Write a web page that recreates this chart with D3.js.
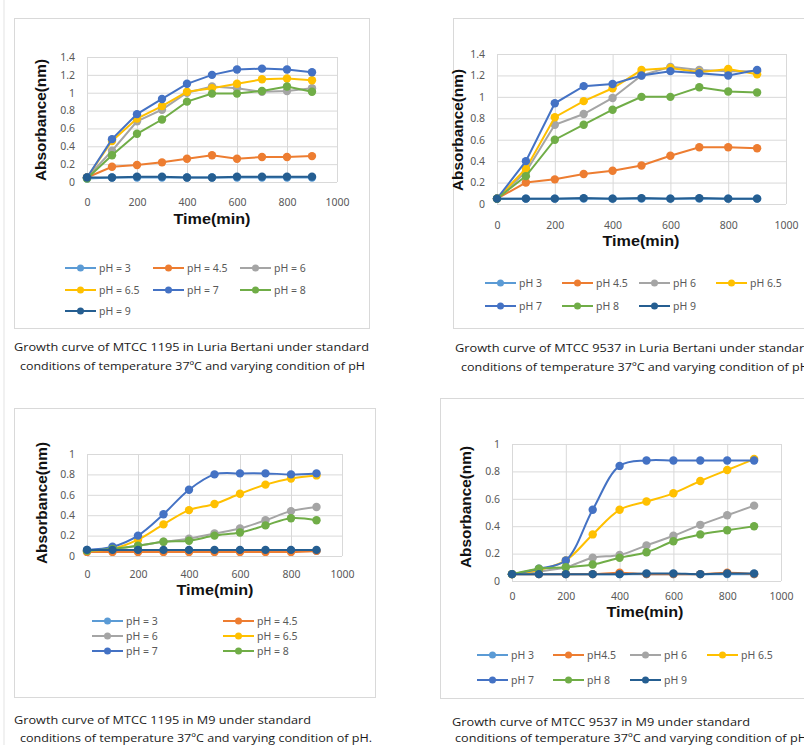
<!DOCTYPE html>
<html>
<head>
<meta charset="utf-8">
<script src="https://cdn.jsdelivr.net/npm/d3@7"></script>
<style>
  body { margin: 0; background: #fff; }
  svg { display: block; }
</style>
</head>
<body>
<div id="chart"></div>
<script>
//------------------------------------------------------
// Données
//------------------------------------------------------

const times = [0, 100, 200, 300, 400, 500, 600, 700, 800, 900];
const xTicks = [0, 200, 400, 600, 800, 1000];
const yTicksLB = [0, 0.2, 0.4, 0.6, 0.8, 1, 1.2, 1.4];
const yTicksM9 = [0, 0.2, 0.4, 0.6, 0.8, 1];

// ordre des séries : pH 3, 4.5, 6, 6.5, 7, 8, 9
const phColors = ["#5B9BD5", "#ED7D31", "#A5A5A5", "#FFC000", "#4472C4", "#70AD47", "#255E91"];

const legendLB1195 = ["pH = 3", "pH = 4.5", "pH = 6", "pH = 6.5", "pH = 7", "pH = 8", "pH = 9"];
const legendLB9537 = ["pH 3", "pH 4.5", "pH 6", "pH 6.5", "pH 7", "pH 8", "pH 9"];
const legendM91195 = ["pH = 3", "pH = 4.5", "pH = 6", "pH = 6.5", "pH = 7", "pH = 8"];
const legendM99537 = ["pH 3", "pH4.5", "pH 6", "pH 6.5", "pH 7", "pH 8", "pH 9"];

const captionLB1195 = [
  "Growth curve of MTCC 1195  in Luria Bertani under standard",
  "conditions of temperature 37ºC and varying condition of pH"
];
const captionLB9537 = [
  "Growth curve of MTCC 9537  in Luria Bertani under standard",
  "conditions of temperature 37ºC and varying condition of pH"
];
const captionM91195 = [
  "Growth curve of MTCC 1195  in M9 under standard",
  "conditions of temperature 37ºC and varying condition of pH."
];
const captionM99537 = [
  "Growth curve of MTCC 9537  in M9 under standard",
  "conditions of temperature 37ºC and varying condition of pH"
];

const absLB1195 = [
  [0.04, 0.05, 0.05, 0.05, 0.05, 0.05, 0.05, 0.05, 0.05, 0.05],
  [0.05, 0.17, 0.19, 0.22, 0.26, 0.30, 0.26, 0.28, 0.28, 0.29],
  [0.05, 0.35, 0.68, 0.81, 1.00, 1.07, 1.05, 1.01, 1.02, 1.05],
  [0.05, 0.46, 0.71, 0.85, 1.01, 1.05, 1.10, 1.15, 1.16, 1.14],
  [0.05, 0.48, 0.76, 0.93, 1.10, 1.20, 1.26, 1.27, 1.26, 1.23],
  [0.04, 0.30, 0.54, 0.70, 0.90, 0.99, 0.99, 1.02, 1.07, 1.01],
  [0.05, 0.05, 0.06, 0.06, 0.05, 0.05, 0.06, 0.06, 0.06, 0.06]
];

const absLB9537 = [
  [0.05, 0.05, 0.05, 0.05, 0.05, 0.05, 0.05, 0.05, 0.05, 0.05],
  [0.05, 0.20, 0.23, 0.28, 0.31, 0.36, 0.45, 0.53, 0.53, 0.52],
  [0.05, 0.30, 0.74, 0.84, 0.99, 1.20, 1.28, 1.25, 1.24, 1.24],
  [0.05, 0.33, 0.81, 0.96, 1.08, 1.25, 1.27, 1.23, 1.26, 1.21],
  [0.05, 0.40, 0.94, 1.10, 1.12, 1.20, 1.24, 1.22, 1.20, 1.25],
  [0.05, 0.26, 0.60, 0.74, 0.88, 1.00, 1.00, 1.09, 1.05, 1.04],
  [0.05, 0.05, 0.05, 0.055, 0.05, 0.055, 0.05, 0.055, 0.05, 0.05]
];

const absM91195 = [
  [0.05, 0.05, 0.05, 0.05, 0.05, 0.05, 0.05, 0.05, 0.05, 0.05],
  [0.04, 0.04, 0.04, 0.04, 0.04, 0.04, 0.04, 0.04, 0.04, 0.05],
  [0.05, 0.07, 0.10, 0.14, 0.17, 0.22, 0.27, 0.35, 0.44, 0.48],
  [0.05, 0.07, 0.16, 0.31, 0.45, 0.51, 0.61, 0.70, 0.76, 0.79],
  [0.06, 0.09, 0.20, 0.41, 0.65, 0.80, 0.81, 0.81, 0.80, 0.81],
  [0.05, 0.07, 0.10, 0.14, 0.15, 0.20, 0.23, 0.30, 0.37, 0.35],
  [0.06, 0.06, 0.06, 0.06, 0.06, 0.06, 0.06, 0.06, 0.06, 0.06]
];

const absM99537 = [
  [0.05, 0.05, 0.05, 0.05, 0.05, 0.05, 0.05, 0.05, 0.05, 0.05],
  [0.05, 0.05, 0.05, 0.05, 0.06, 0.05, 0.05, 0.05, 0.06, 0.05],
  [0.05, 0.07, 0.10, 0.17, 0.19, 0.26, 0.33, 0.41, 0.48, 0.55],
  [0.05, 0.08, 0.15, 0.34, 0.52, 0.58, 0.64, 0.73, 0.81, 0.89],
  [0.05, 0.09, 0.15, 0.52, 0.84, 0.88, 0.88, 0.88, 0.88, 0.88],
  [0.05, 0.09, 0.10, 0.12, 0.17, 0.21, 0.29, 0.34, 0.37, 0.40],
  [0.05, 0.05, 0.05, 0.05, 0.05, 0.055, 0.055, 0.05, 0.055, 0.055]
];

//------------------------------------------------------
// Mise en page
//------------------------------------------------------

const width = 804;
const height = 745;

const svg = d3.select("#chart").append("svg")
  .attr("width", width)
  .attr("height", height);

// trait gris à gauche
svg.append("line")
  .attr("x1", 4).attr("x2", 4)
  .attr("y1", 0).attr("y2", height)
  .attr("stroke", "#e3e3e3");

const panels = [
  {
    data: absLB1195, legend: legendLB1195, caption: captionLB1195, yTicks: yTicksLB, yMax: 1.4,
    box: [14, 18, 369, 328], x: [87, 337], y: [182, 57], smooth: false,
    xLabelY: 202, title: [212, 219], yTitle: [41, 120],
    legendCols: [65, 153, 240], legendRows: [268, 290, 311],
    captionPos: [[14, 347, 355], [20, 366, 345]]
  },
  {
    data: absLB9537, legend: legendLB9537, caption: captionLB9537, yTicks: yTicksLB, yMax: 1.4,
    box: [453, 18, 840, 328], x: [497, 786], y: [204, 54], smooth: false,
    xLabelY: 225, title: [641, 241], yTitle: [458, 130],
    legendCols: [485, 562, 639, 716], legendRows: [283, 306],
    captionPos: [[455, 348, 357], [461, 367, 348]]
  },
  {
    data: absM91195, legend: legendM91195, caption: captionM91195, yTicks: yTicksM9, yMax: 1,
    box: [14, 408, 375, 697], x: [87, 342], y: [556, 454], smooth: true,
    xLabelY: 574, title: [215, 590], yTitle: [42, 503],
    legendCols: [92, 223], legendRows: [621, 636, 651],
    captionPos: [[14, 720, 297], [20, 738, 352]]
  },
  {
    data: absM99537, legend: legendM99537, caption: captionM99537, yTicks: yTicksM9, yMax: 1,
    box: [440, 398, 840, 698], x: [512, 781], y: [581, 444], smooth: true,
    xLabelY: 596, title: [645, 612], yTitle: [466, 507],
    legendCols: [477, 553, 630, 707], legendRows: [655, 680],
    captionPos: [[452, 722, 298], [455, 738, 352]]
  }
];

panels.forEach(drawPanel);

//------------------------------------------------------
// Un graphique
//------------------------------------------------------

function drawPanel(p) {

  const g = svg.append("g");

  g.append("rect")
    .attr("x", p.box[0] + 0.5)
    .attr("y", p.box[1] + 0.5)
    .attr("width", p.box[2] - p.box[0])
    .attr("height", p.box[3] - p.box[1])
    .attr("fill", "#fff")
    .attr("stroke", "#d9d9d9");

  const x = d3.scaleLinear().domain([0, 1000]).range(p.x);
  const y = d3.scaleLinear().domain([0, p.yMax]).range(p.y);

  const plotW = p.x[1] - p.x[0];
  const plotH = p.y[0] - p.y[1];

  // grille horizontale + étiquettes y
  const gy = g.append("g")
    .attr("transform", `translate(${p.x[0]},0)`)
    .call(d3.axisLeft(y)
      .tickValues(p.yTicks)
      .tickSize(-plotW)
      .tickPadding(12)
      .tickFormat(d3.format("~g")));

  // grille verticale + étiquettes x
  const gx = g.append("g")
    .attr("transform", `translate(0,${p.y[0]})`)
    .call(d3.axisBottom(x)
      .tickValues(xTicks)
      .tickSize(-plotH)
      .tickFormat(d3.format("d")));

  [gx, gy].forEach(a => {
    a.select(".domain").remove();
    a.selectAll("line").attr("stroke", "#d9d9d9").attr("stroke-width", 1);
    a.selectAll("text")
      .attr("fill", "#595959")
      .style("font-family", "'Noto Sans', sans-serif")
      .style("font-size", "10.5px");
  });
  gx.selectAll("text").attr("dy", "0.35em").attr("y", p.xLabelY - p.y[0]);

  // titres d'axes
  g.append("text")
    .attr("x", p.title[0])
    .attr("y", p.title[1])
    .attr("text-anchor", "middle")
    .attr("dy", "0.35em")
    .attr("textLength", 77)
    .attr("lengthAdjust", "spacingAndGlyphs")
    .style("font-family", "'Liberation Sans', Arial, sans-serif")
    .style("font-weight", "bold")
    .style("font-size", "14px")
    .attr("fill", "#111")
    .text("Time(min)");

  g.append("text")
    .attr("transform", `translate(${p.yTitle[0]},${p.yTitle[1]}) rotate(-90)`)
    .attr("text-anchor", "middle")
    .attr("dy", "0.35em")
    .attr("textLength", 122)
    .attr("lengthAdjust", "spacingAndGlyphs")
    .style("font-family", "'Liberation Sans', Arial, sans-serif")
    .style("font-weight", "bold")
    .style("font-size", "14px")
    .attr("fill", "#111")
    .text("Absorbance(nm)");

  // séries
  const line = d3.line()
    .x((d, i) => x(times[i]))
    .y(d => y(d))
    .curve(p.smooth ? d3.curveCatmullRom.alpha(0.5) : d3.curveLinear);

  p.data.forEach((serie, k) => {
    const s = g.append("g");
    s.append("path")
      .datum(serie)
      .attr("d", line)
      .attr("fill", "none")
      .attr("stroke", phColors[k])
      .attr("stroke-width", 2);
    s.selectAll("circle")
      .data(serie)
      .join("circle")
      .attr("cx", (d, i) => x(times[i]))
      .attr("cy", d => y(d))
      .attr("r", 4.2)
      .attr("fill", phColors[k]);
  });

  // légende
  const nCols = p.legendCols.length;
  p.legend.forEach((label, k) => {
    const lx = p.legendCols[k % nCols];
    const ly = p.legendRows[Math.floor(k / nCols)];
    const e = g.append("g");
    e.append("line")
      .attr("x1", lx).attr("x2", lx + 31)
      .attr("y1", ly).attr("y2", ly)
      .attr("stroke", phColors[k])
      .attr("stroke-width", 2);
    e.append("circle")
      .attr("cx", lx + 15.5).attr("cy", ly)
      .attr("r", 3.5)
      .attr("fill", phColors[k]);
    e.append("text")
      .attr("x", lx + 34).attr("y", ly)
      .attr("dy", "0.35em")
      .attr("fill", "#595959")
      .style("font-family", "'Noto Sans', sans-serif")
      .style("font-size", "10.5px")
      .text(label);
  });

  // légende sous le graphique
  p.caption.forEach((txt, i) => {
    const [cx, cy, len] = p.captionPos[i];
    svg.append("text")
      .attr("x", cx).attr("y", cy)
      .attr("dy", "0.35em")
      .attr("textLength", len)
      .attr("lengthAdjust", "spacingAndGlyphs")
      .attr("fill", "#1a1a1a")
      .style("font-family", "'Open Sans', sans-serif")
      .style("font-size", "11px")
      .text(txt);
  });
}
</script>
</body>
</html>
